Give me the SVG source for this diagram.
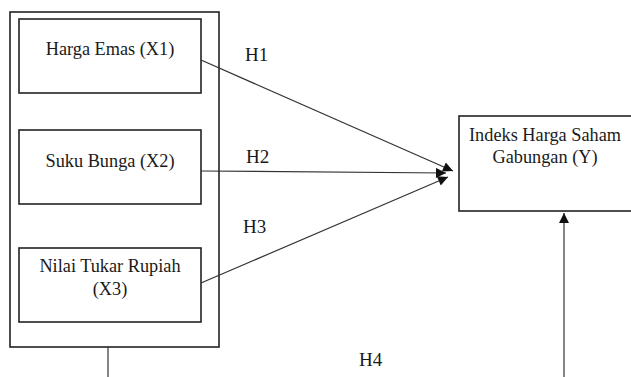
<svg xmlns="http://www.w3.org/2000/svg" width="631" height="377" viewBox="0 0 631 377">
<defs>
<style>
.box{fill:#fff;stroke:#222;stroke-width:1.6}
.t{font-size:18.3px;fill:#1a1a1a;text-anchor:middle}
.h{font-size:19px;fill:#1a1a1a}
.c{stroke:#333;stroke-width:1.2;fill:none}
</style>
<marker id="ah" viewBox="0 0 10 10" refX="10" refY="5" markerWidth="12" markerHeight="10" markerUnits="userSpaceOnUse" orient="auto">
<path d="M0,0 L10,5 L0,10 Z" fill="#111"/>
</marker>
</defs>
<rect width="631" height="377" fill="#fff"/>
<g font-family="Liberation Serif, Times New Roman, serif">
<g id="group-x">
<rect class="box" x="10" y="12" width="209" height="335"/>
</g>
<g id="x1">
<rect class="box" x="19" y="19" width="182" height="74"/>
<text class="t" x="110" y="55">Harga Emas (X1)</text>
</g>
<g id="x2">
<rect class="box" x="19" y="130" width="182" height="74"/>
<text class="t" x="110" y="167">Suku Bunga (X2)</text>
</g>
<g id="x3">
<rect class="box" x="19" y="248" width="182" height="74"/>
<text class="t" x="110" y="272">Nilai Tukar Rupiah</text>
<text class="t" x="110" y="295">(X3)</text>
</g>
<g id="y">
<rect class="box" x="459" y="116" width="180" height="95"/>
<text class="t" x="545" y="141">Indeks Harga Saham</text>
<text class="t" x="545" y="163">Gabungan (Y)</text>
</g>
<g id="connectors">
<line class="c" x1="201" y1="60" x2="453" y2="171" marker-end="url(#ah)"/>
<line class="c" x1="201" y1="171" x2="446" y2="173" marker-end="url(#ah)"/>
<line class="c" x1="201" y1="283" x2="448" y2="177" marker-end="url(#ah)"/>
<line class="c" x1="108" y1="347" x2="108" y2="377"/>
<line class="c" x1="564" y1="377" x2="564" y2="213" marker-end="url(#ah)"/>
</g>
<g id="labels">
<text class="h" x="245" y="61">H1</text>
<text class="h" x="246" y="163">H2</text>
<text class="h" x="243" y="233">H3</text>
<text class="h" x="359" y="366">H4</text>
</g>
</g>
</svg>
